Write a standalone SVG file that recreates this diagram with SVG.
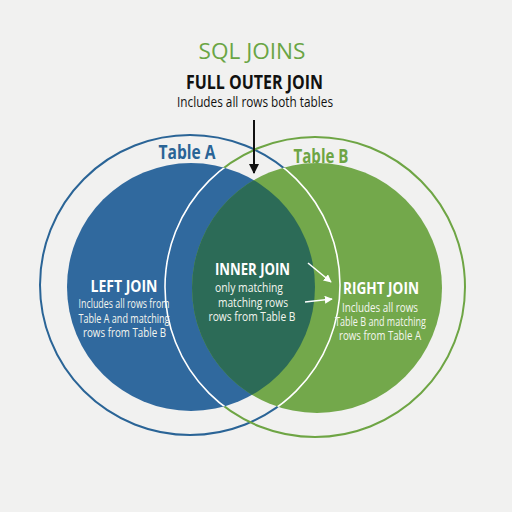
<svg xmlns="http://www.w3.org/2000/svg" width="512" height="512" viewBox="0 0 512 512">
<defs>
<style>
text{font-family:"Open Sans","DejaVu Sans Condensed","Liberation Sans",sans-serif;text-anchor:middle}
.h{font-weight:bold;fill:#ffffff;font-size:16px}
.b{fill:#f4f6ef;font-size:13px}
.lbl{font-weight:bold;font-size:19px}
.w{stroke:#ffffff;stroke-width:1.6;fill:none}
</style>
<clipPath id="clipA"><circle cx="191" cy="287" r="124"/></clipPath>
<clipPath id="clipB"><circle cx="317" cy="288" r="125"/></clipPath>
<marker id="ab" viewBox="0 0 10 10" refX="9" refY="5" markerWidth="5" markerHeight="5" orient="auto"><path d="M0,0 L10,5 L0,10 z" fill="#111"/></marker>
<marker id="aw" viewBox="0 0 10 10" refX="9" refY="5" markerWidth="5" markerHeight="5" orient="auto"><path d="M0,0 L10,5 L0,10 z" fill="#ffffff"/></marker>
</defs>
<rect width="512" height="512" fill="#f1f1f0"/>
<g id="title">
<text x="252" y="59" font-size="21" fill="#6aa544" textLength="107" lengthAdjust="spacingAndGlyphs">SQL JOINS</text>
<text x="254.5" y="89" font-size="19" font-weight="bold" fill="#111" textLength="137" lengthAdjust="spacingAndGlyphs">FULL OUTER JOIN</text>
<text x="255" y="107" font-size="14" fill="#111" textLength="156" lengthAdjust="spacingAndGlyphs">Includes all rows both tables</text>
</g>
<g id="outerA"><circle cx="190" cy="285" r="150" fill="none" stroke="#2a6496" stroke-width="2"/></g>
<g id="outerB"><circle cx="315" cy="287" r="150" fill="none" stroke="#6ea544" stroke-width="2"/></g>
<g id="tableA"><circle cx="191" cy="287" r="124" fill="#30699e"/></g>
<g id="tableB"><circle cx="317" cy="288" r="125" fill="#73a84b"/></g>
<g id="inner"><circle cx="317" cy="288" r="125" fill="#2c6b57" clip-path="url(#clipA)"/></g>
<g id="rings-white">
<circle cx="190" cy="285" r="150" class="w" clip-path="url(#clipB)"/>
<circle cx="315" cy="287" r="150" class="w" clip-path="url(#clipA)"/>
</g>
<g id="labels">
<text x="187" y="159" class="lbl" fill="#2a6496" textLength="57" lengthAdjust="spacingAndGlyphs">Table A</text>
<text x="321" y="163" class="lbl" fill="#6ea544" textLength="55" lengthAdjust="spacingAndGlyphs">Table B</text>
</g>
<g id="left-join">
<text x="124" y="292" class="h" textLength="67" lengthAdjust="spacingAndGlyphs">LEFT JOIN</text>
<text x="124" y="308" class="b" textLength="91" lengthAdjust="spacingAndGlyphs">Includes all rows from</text>
<text x="124" y="323" class="b" textLength="91" lengthAdjust="spacingAndGlyphs">Table A and matching</text>
<text x="124.5" y="337" class="b" textLength="83" lengthAdjust="spacingAndGlyphs">rows from Table B</text>
</g>
<g id="inner-join">
<text x="252.5" y="275" class="h" textLength="75" lengthAdjust="spacingAndGlyphs">INNER JOIN</text>
<text x="249" y="292" class="b" textLength="68" lengthAdjust="spacingAndGlyphs">only matching</text>
<text x="253" y="307" class="b" textLength="70" lengthAdjust="spacingAndGlyphs">matching rows</text>
<text x="252" y="321" class="b" textLength="87" lengthAdjust="spacingAndGlyphs">rows from Table B</text>
</g>
<g id="right-join">
<text x="381" y="294" class="h" textLength="76" lengthAdjust="spacingAndGlyphs">RIGHT JOIN</text>
<text x="380" y="312" class="b" textLength="76" lengthAdjust="spacingAndGlyphs">Includes all rows</text>
<text x="380.5" y="326" class="b" textLength="91" lengthAdjust="spacingAndGlyphs">Table B and matching</text>
<text x="380" y="340" class="b" textLength="82" lengthAdjust="spacingAndGlyphs">rows from Table A</text>
</g>
<g id="connectors">
<line x1="254" y1="120" x2="254" y2="173" stroke="#111" stroke-width="2" marker-end="url(#ab)"/>
<line x1="308" y1="263" x2="331" y2="282" stroke="#fff" stroke-width="1.6" marker-end="url(#aw)"/>
<line x1="305" y1="302" x2="332" y2="299" stroke="#fff" stroke-width="1.6" marker-end="url(#aw)"/>
</g>
</svg>
